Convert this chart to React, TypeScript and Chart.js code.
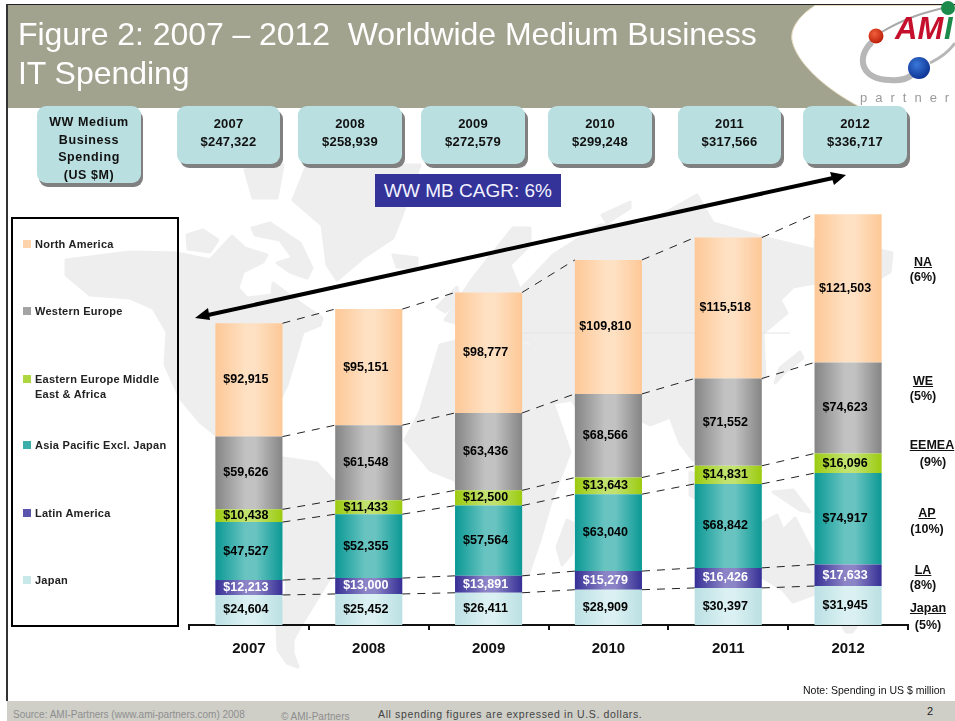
import React, { useEffect, useRef } from "react";
import { Chart, registerables } from "chart.js";

Chart.register(...registerables);

const years = ["2007", "2008", "2009", "2010", "2011", "2012"];
const japan = [24604, 25452, 26411, 28909, 30397, 31945];
const latinAmerica = [12213, 13000, 13891, 15279, 16426, 17633];
const asiaPacific = [47527, 52355, 57564, 63040, 68842, 74917];
const eemea = [10438, 11433, 12500, 13643, 14831, 16096];
const westernEurope = [59626, 61548, 63436, 68566, 71552, 74623];
const northAmerica = [92915, 95151, 98777, 109810, 115518, 121503];
const yearTotals = ["$247,322", "$258,939", "$272,579", "$299,248", "$317,566", "$336,717"];

const legendNames = [
  ["North America"],
  ["Western Europe"],
  ["Eastern Europe Middle", "East & Africa"],
  ["Asia Pacific Excl. Japan"],
  ["Latin America"],
  ["Japan"],
];
const regionCodes = ["NA", "WE", "EEMEA", "AP", "LA", "Japan"];
const regionGrowth = ["(6%)", "(5%)", "(9%)", "(10%)", "(8%)", "(5%)"];

const FONT = "'Liberation Sans', Arial, sans-serif";

const seriesDefs = [
  { label: "Japan", data: japan, edge: "#bbe0e3", mid: "#daf0f2", text: "#000" },
  { label: "Latin America", data: latinAmerica, edge: "#363096", mid: "#8b84c6", text: "#fff" },
  { label: "Asia Pacific Excl. Japan", data: asiaPacific, edge: "#0b9995", mid: "#69c4c1", text: "#000" },
  { label: "Eastern Europe Middle East & Africa", data: eemea, edge: "#9ccb10", mid: "#c1e26e", text: "#000" },
  { label: "Western Europe", data: westernEurope, edge: "#858585", mid: "#c2c2c2", text: "#000" },
  { label: "North America", data: northAmerica, edge: "#fdc897", mid: "#fee0c2", text: "#000" },
];

const legendSwatches = ["#fdd3ab", "#a3a3a3", "#aed63f", "#3aaeaa", "#5a54ac", "#c9e8ea"];

const overlayPlugin = {
  id: "overlay",
  afterDatasetsDraw(chart: any) {
    const { ctx } = chart;
    const n = chart.data.datasets.length;
    ctx.save();
    // dashed connectors between the tops of the segments of adjacent bars
    ctx.strokeStyle = "#222";
    ctx.lineWidth = 1;
    ctx.setLineDash([8, 7]);
    for (let i = 0; i < n; i++) {
      const meta = chart.getDatasetMeta(i);
      for (let j = 0; j < meta.data.length - 1; j++) {
        const a = meta.data[j];
        const b = meta.data[j + 1];
        ctx.beginPath();
        ctx.moveTo(a.x + a.width / 2, a.y);
        ctx.lineTo(b.x - b.width / 2, b.y);
        ctx.stroke();
      }
    }
    ctx.setLineDash([]);
    // value labels
    ctx.font = `bold 12.5px ${FONT}`;
    ctx.textAlign = "center";
    ctx.textBaseline = "middle";
    for (let i = 0; i < n; i++) {
      const meta = chart.getDatasetMeta(i);
      const ds = chart.data.datasets[i];
      ctx.fillStyle = seriesDefs[i].text;
      meta.data.forEach((el: any, j: number) => {
        const mid = (el.y + el.base) / 2;
        ctx.fillText("$" + ds.data[j].toLocaleString("en-US"), el.x - 3, mid);
      });
    }
    ctx.restore();
  },
};

const landPolys: string[] = [
  // North America
  "66,260 130,252 177,253 210,260 232,236 245,248 267,255 263,262 243,272 238,288 247,298 272,295 273,283 285,292 303,305 322,318 320,325 303,332 297,352 287,385 270,420 262,440 216,435 200,422 180,398 165,365 167,332 153,308 130,298 90,295 66,275",
  // Arctic islands
  "187,235 203,230 218,240 210,252 188,249",
  "252,228 270,223 300,243 312,268 307,278 290,272 277,263 293,258 280,240 255,235",
  "245,170 283,165 277,198 253,198",
  // Greenland
  "293,200 307,165 420,165 402,215 393,238 363,258 337,280 327,265 322,225",
  // Iceland
  "393,255 417,258 417,268 397,267",
  // South America
  "283,458 317,463 335,483 372,495 365,530 333,573 300,627 293,640 293,653 298,667 287,663 278,650 277,627 287,590 283,550 270,500",
  // Africa
  "420,412 440,345 480,335 527,345 545,375 552,400 570,452 550,505 540,540 528,575 490,575 470,540 455,480 430,470 405,440",
  // Madagascar
  "557,547 567,520 573,523 572,553 562,565",
  // Eurasia
  "473,278 513,228 530,228 530,245 510,265 520,290 553,255 600,225 643,225 697,195 713,223 762,237 815,250 815,283 793,287 780,300 787,313 763,333 765,377 720,410 693,460 680,443 670,417 650,425 600,400 590,430 572,400 540,405 530,342 495,335 480,330 445,320",
  "815,240 880,250 892,253 890,272 860,290 815,283",
  // British Isles and Arctic Russia
  "437,307 457,287 460,300 445,312",
  "602,215 630,202 630,208 607,223",
  // Japan
  "800,352 803,358 785,372 775,383 780,368",
  // New Guinea and Australia
  "773,492 793,490 810,512 800,510 785,500",
  "720,523 762,523 777,515 783,530 795,518 815,557 825,590 793,602 783,590 762,577 730,580",
  "843,627 856,627 852,632 846,632",
  // Indonesia
  "690,472 712,480 705,505 690,495",
];

function App() {
  const ref = useRef<HTMLCanvasElement | null>(null);

  useEffect(() => {
    document.body.style.margin = "0";
    const chart = new Chart(ref.current as HTMLCanvasElement, {
      type: "bar",
      plugins: [overlayPlugin],
      data: {
        labels: years,
        datasets: seriesDefs.map((s) => ({
          label: s.label,
          data: s.data,
          stack: "spend",
          categoryPercentage: 1,
          barPercentage: 0.56,
          borderWidth: 0,
          backgroundColor: (c: any) => {
            const area = c.chart.chartArea;
            if (!area || c.dataIndex === undefined) return s.edge;
            const x = c.chart.scales.x.getPixelForValue(c.dataIndex);
            const g = c.chart.ctx.createLinearGradient(x - 33.5, 0, x + 33.5, 0);
            g.addColorStop(0, s.edge);
            g.addColorStop(0.45, s.mid);
            g.addColorStop(0.6, s.mid);
            g.addColorStop(1, s.edge);
            return g;
          },
        })),
      } as any,
      options: {
        animation: false,
        responsive: false,
        layout: { padding: { left: 189, right: 47, top: 198, bottom: 0 } },
        plugins: { legend: { display: false }, tooltip: { enabled: false } },
        scales: {
          x: {
            stacked: true,
            afterFit: (s: any) => {
              s.height = 96;
            },
            border: { color: "#111", width: 2 },
            grid: { offset: true, drawOnChartArea: false, drawTicks: true, tickLength: 5, color: "#111", lineWidth: 2 },
            ticks: { color: "#111", padding: 10, font: { family: FONT, size: 15, weight: "bold" }, maxRotation: 0 },
          },
          y: { stacked: true, display: false, min: 0, max: 350000 },
        },
      } as any,
    });
    return () => chart.destroy();
  }, []);

  const abs = (o: React.CSSProperties): React.CSSProperties => ({ position: "absolute", ...o });
  const boxLefts = [177, 298, 421, 548, 678, 803];
  const boxWidths = [103, 104, 104, 104, 103, 104];
  const legendY = [244, 311, 379, 445, 513, 580];
  const regionPos = [
    { x: 923, y: 262, gy: 277, gx: 923 },
    { x: 923, y: 381, gy: 396, gx: 923 },
    { x: 932, y: 445, gy: 462, gx: 933 },
    { x: 927, y: 513, gy: 529, gx: 927 },
    { x: 923, y: 570, gy: 585, gx: 923 },
    { x: 928, y: 608, gy: 625, gx: 928 },
  ];

  return (
    <div style={{ position: "relative", width: 955, height: 721, overflow: "hidden", background: "#fff", fontFamily: FONT }}>
      {/* world map backdrop */}
      <svg width={955} height={721} style={abs({ left: 0, top: 0 })}>
        {landPolys.map((p, i) => (
          <polygon key={i} points={p} fill="#eeeeee" stroke="#eeeeee" strokeWidth={3} strokeLinejoin="round" />
        ))}
        <line x1={522} y1={333} x2={790} y2={333} stroke="#e4e4e4" strokeWidth={1} />
      </svg>

      <canvas ref={ref} width={955} height={721} style={abs({ left: 0, top: 0, width: 955, height: 721 })} />

      {/* frame, banner and logo */}
      <div style={abs({ left: 6, top: 4, width: 949, height: 104, background: "#a2a38e", borderTop: "1.5px solid #222", boxSizing: "border-box" })} />
      <div style={abs({ left: 6, top: 4, width: 1.5, height: 697, background: "#333" })} />
      <svg width={955} height={108} style={abs({ left: 0, top: 0 })}>
        <defs>
          <radialGradient id="ballRed" cx="0.4" cy="0.35" r="0.7">
            <stop offset="0" stopColor="#f0603a" />
            <stop offset="1" stopColor="#b81a08" />
          </radialGradient>
          <radialGradient id="ballBlue" cx="0.4" cy="0.35" r="0.7">
            <stop offset="0" stopColor="#3a78d8" />
            <stop offset="1" stopColor="#0a2f90" />
          </radialGradient>
        </defs>
        <path d="M815 5.5 C800 15 790 28 792 40 C796 62 825 90 866 110 L960 110 L960 5.5 Z" fill="#fff" stroke="#e9dcc0" strokeWidth={1} />
        <path d="M880 33 C905 18 925 12 948 7" fill="none" stroke="#a9a9a9" strokeWidth={2} />
        <path d="M872 42 C855 58 862 80 890 80 C900 81 908 78 912 75" fill="none" stroke="#b7b7b7" strokeWidth={6} />
        <path d="M930 63 C940 58 950 50 955 43" fill="none" stroke="#b7b7b7" strokeWidth={3} />
        <circle cx={876} cy={36} r={7.5} fill="url(#ballRed)" />
        <circle cx={919} cy={68} r={11} fill="url(#ballBlue)" />
        <circle cx={948} cy={8} r={7} fill="#1c8a4a" />
        <text x={895} y={39} fontFamily={FONT} fontSize={31} fontWeight="bold" fontStyle="italic" fill="#c4102c">AM</text>
        <text x={944} y={39} fontFamily={FONT} fontSize={31} fontWeight="bold" fontStyle="italic" fill="#1c8a4a">I</text>
        <text x={860} y={102} fontFamily={FONT} fontSize={13} fill="#9a9a9a" letterSpacing={8}>partner</text>
      </svg>

      <div style={abs({ left: 18, top: 15, color: "#fff", fontSize: 32, lineHeight: "38.5px", whiteSpace: "pre", letterSpacing: -0.05 })}>
        {"Figure 2: 2007 \u2013 2012  Worldwide Medium Business\nIT Spending"}
      </div>

      {/* spending boxes */}
      <div style={abs({ left: 37, top: 106, width: 104, height: 77, background: "#b9dfe1", borderRadius: 9, boxShadow: "2px 4px 0 #808080", textAlign: "center", fontWeight: "bold", fontSize: 12.5, lineHeight: "17.5px", paddingTop: 8, boxSizing: "border-box", color: "#111", letterSpacing: 0.6 })}>
        WW Medium<br />Business<br />Spending<br />(US $M)
      </div>
      {years.map((y, i) => (
        <div key={y} style={abs({ left: boxLefts[i], top: 106, width: boxWidths[i], height: 58, background: "#b9dfe1", borderRadius: 9, boxShadow: "3px 4px 0 #808080", textAlign: "center", fontWeight: "bold", fontSize: 13, lineHeight: "18px", paddingTop: 9, boxSizing: "border-box", color: "#111", letterSpacing: 0.2 })}>
          {y}<br />{yearTotals[i]}
        </div>
      ))}

      <div style={abs({ left: 375, top: 174, width: 186, height: 33, background: "#333399", color: "#f2f2ff", fontSize: 19, lineHeight: "33px", textAlign: "center" })}>
        WW MB CAGR: 6%
      </div>

      {/* growth arrow */}
      <svg width={955} height={721} style={abs({ left: 0, top: 0, pointerEvents: "none" })}>
        <line x1={208} y1={315} x2={833} y2={178} stroke="#000" strokeWidth={4} />
        <polygon points="195,318 208,308 210,320" fill="#000" />
        <polygon points="846,175 830,172 834,185" fill="#000" />
      </svg>

      {/* legend */}
      <div style={abs({ left: 11, top: 217, width: 168, height: 409.5, border: "2px solid #000", boxSizing: "border-box" })} />
      {legendNames.map((lines, i) => (
        <React.Fragment key={i}>
          <div style={abs({ left: 23, top: legendY[i] - 4, width: 8, height: 8, background: legendSwatches[i] })} />
          <div style={abs({ left: 35, top: legendY[i] - 7.5, fontSize: 11, fontWeight: "bold", lineHeight: "15px", color: "#222", whiteSpace: "nowrap", letterSpacing: 0.25 })}>
            {lines.map((l, k) => (
              <div key={k}>{l}</div>
            ))}
          </div>
        </React.Fragment>
      ))}

      {/* region growth labels */}
      {regionCodes.map((c, i) => (
        <React.Fragment key={c}>
          <div style={abs({ left: regionPos[i].x - 30, top: regionPos[i].y - 8, width: 60, textAlign: "center", fontSize: 12.5, fontWeight: "bold", lineHeight: "16px", color: "#111", textDecoration: "underline" })}>{c}</div>
          <div style={abs({ left: regionPos[i].gx - 30, top: regionPos[i].gy - 8, width: 60, textAlign: "center", fontSize: 12.5, fontWeight: "bold", lineHeight: "16px", color: "#111" })}>{regionGrowth[i]}</div>
        </React.Fragment>
      ))}

      <div style={abs({ left: 803, top: 684, fontSize: 10.5, lineHeight: "13px", color: "#111", whiteSpace: "nowrap" })}>Note: Spending in US $ million</div>

      {/* footer */}
      <div style={abs({ left: 7, top: 701, width: 948, height: 20, background: "#cfcfc8" })} />
      <div style={abs({ left: 13, top: 708, fontSize: 10, lineHeight: "13px", color: "#8e8e8e", whiteSpace: "nowrap" })}>Source:  AMI-Partners (www.ami-partners.com) 2008</div>
      <div style={abs({ left: 281, top: 710, fontSize: 10, lineHeight: "13px", color: "#8e8e8e", whiteSpace: "nowrap" })}>© AMI-Partners</div>
      <div style={abs({ left: 378, top: 708, fontSize: 10.5, lineHeight: "13px", color: "#444", whiteSpace: "nowrap", letterSpacing: 0.63 })}>All spending figures are expressed in U.S. dollars.</div>
      <div style={abs({ left: 927, top: 705, fontSize: 11, lineHeight: "13px", color: "#222" })}>2</div>
    </div>
  );
}

export default App;
